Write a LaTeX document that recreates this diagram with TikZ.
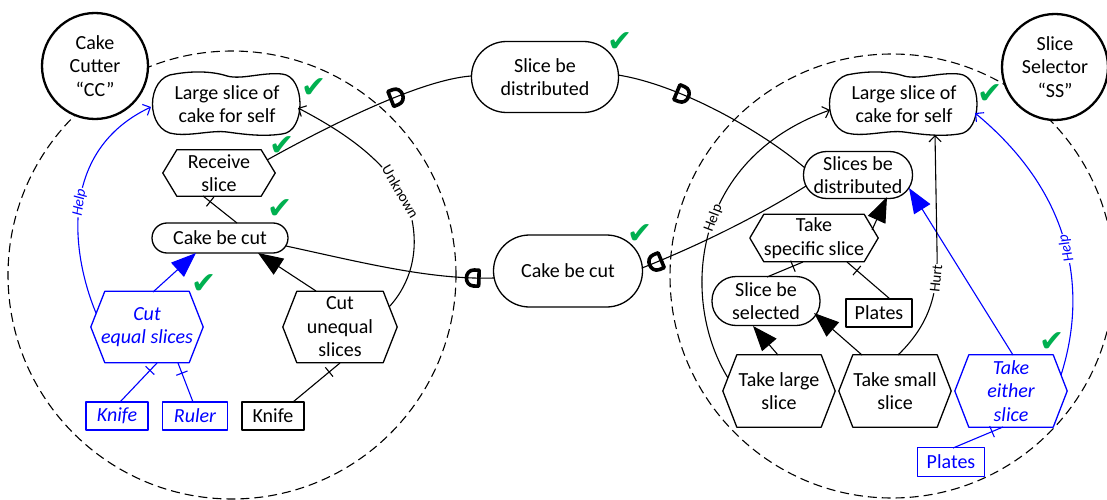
\documentclass[tikz,border=0pt]{standalone}
\usepackage{fontspec}
\setmainfont{Carlito}
\newfontfamily\symfont{DejaVu Sans}
\usetikzlibrary{arrows.meta,decorations.markings,calc}
\definecolor{ibblue}{RGB}{0,0,255}
\definecolor{okgreen}{RGB}{0,176,80}

% hexagonal task outline around a named node
\newcommand\hexoutline[2][]{%
  \draw[elem,#1] ([xshift=14pt]#2.north west) -- ([xshift=-14pt]#2.north east) -- (#2.east)
    -- ([xshift=-14pt]#2.south east) -- ([xshift=14pt]#2.south west) -- (#2.west) -- cycle;}

% wavy softgoal outline around a named node
\newcommand\softoutline[2][]{%
  \begin{scope}[shift={(#2.center)}]
    \draw[elem,#1] (-52,-30) .. controls (-35,-33) and (-15,-33) .. (0,-28)
      .. controls (15,-24) and (35,-32) .. (55,-30)
      .. controls (79,-28) and (79,28) .. (55,30)
      .. controls (35,33) and (15,30) .. (0,28)
      .. controls (-15,26) and (-35,32) .. (-52,30)
      .. controls (-82,28) and (-82,-28) .. (-52,-30) -- cycle;
  \end{scope}}

\tikzset{
  elem/.style={line width=1.3pt},
  lbl/.style={font=\fontsize{20}{23.5}\selectfont, align=center, inner sep=0pt},
  itlbl/.style={lbl, font=\fontsize{20}{23.5}\selectfont\itshape},
  goal/.style={lbl, draw, elem, rounded corners=#1},
  res/.style={lbl, draw, elem, rectangle},
  actor/.style={lbl, circle, draw, line width=2.3pt, fill=white, minimum size=106pt},
  bound/.style={line width=1.1pt, dash pattern=on 9pt off 5pt},
  conn/.style={line width=1.1pt},
  me/.style={conn, -{Triangle[length=25pt,width=19pt]}},
  contrib/.style={conn, -{Straight Barb[length=6pt,width=12pt]}},
  contribrev/.style={conn, {Straight Barb[length=6pt,width=12pt]}-},
  small/.style={font=\fontsize{15}{17}\selectfont, fill=white, inner sep=1pt, sloped},
  smallit/.style={small, font=\fontsize{15}{17}\selectfont\itshape},
  dectick/.style={conn, postaction={decorate, decoration={markings,
      mark=at position #1 with {\draw[line width=1.1pt] (0pt,-6pt) -- (0pt,6pt);}}}},
  dshape/.style={line width=3.6pt, line join=round},
  dmark/.style={postaction={decorate, decoration={markings,
      mark=at position #1 with {\draw[dshape]
        (-6pt,-8pt) -- (-6pt,8pt) -- (-1pt,8pt) .. controls (9pt,8pt) and (9pt,-8pt) .. (-1pt,-8pt) -- cycle;}}}},
  dmarkrev/.style={postaction={decorate, decoration={markings,
      mark=at position #1 with {\draw[dshape, xscale=-1]
        (-6pt,-8pt) -- (-6pt,8pt) -- (-1pt,8pt) .. controls (9pt,8pt) and (9pt,-8pt) .. (-1pt,-8pt) -- cycle;}}}},
  check/.style={text=okgreen, font=\symfont\fontsize{30}{30}\selectfont, inner sep=0pt}
}

\begin{document}
\begin{tikzpicture}[x=1pt, y=-1pt, line join=round]
\useasboundingbox (0,0) rectangle (1107,500);

% actor boundaries
\draw[bound] (232,275) circle[radius=224pt];
\draw[bound] (892,276) circle[radius=222pt];

% actors
\node[actor] (cc) at (95,66) {Cake\\Cutter\\“CC”};
\node[actor] (ss) at (1055,67) {Slice\\Selector\\“SS”};

% Cake Cutter elements
\node[lbl, minimum width=150pt, minimum height=64pt] (lsl) at (227,104) {Large slice of\\cake for self};
\softoutline{lsl}
\node[lbl, minimum width=112pt, minimum height=46pt] (rcv) at (219,173) {Receive\\slice};
\hexoutline{rcv}
\node[goal=15pt, minimum width=136pt, minimum height=30pt] (lcut) at (220,238) {Cake be cut};
\node[itlbl, text=ibblue, minimum width=112pt, minimum height=71pt] (ceq) at (147,327) {Cut\\equal slices};
\hexoutline[ibblue]{ceq}
\node[lbl, minimum width=114pt, minimum height=71pt] (cun) at (340,327) {Cut\\unequal\\slices};
\hexoutline{cun}
\node[res, itlbl, draw=ibblue, text=ibblue, minimum width=62pt, minimum height=28pt] (kn1) at (117,416) {Knife};
\node[res, itlbl, draw=ibblue, text=ibblue, minimum width=65pt, minimum height=28pt] (rul) at (195,416) {Ruler};
\node[res, minimum width=62pt, minimum height=28pt] (kn2) at (273,416) {Knife};

% dependums
\node[goal=35pt, minimum width=147pt, minimum height=71pt] (sbd) at (545,77) {Slice be\\distributed};
\node[goal=36pt, minimum width=149pt, minimum height=72pt] (mcut) at (568,271) {Cake be cut};

% Slice Selector elements
\node[lbl, minimum width=148pt, minimum height=64pt] (rsl) at (904,104) {Large slice of\\cake for self};
\softoutline{rsl}
\node[goal=23pt, minimum width=109pt, minimum height=47pt] (sbs) at (858,175) {Slices be\\distributed};
\node[lbl, minimum width=128pt, minimum height=47pt] (tsp) at (814,238) {Take\\specific slice};
\hexoutline{tsp}
\node[goal=24pt, minimum width=108pt, minimum height=49pt] (ssel) at (766,301) {Slice be\\selected};
\node[res, minimum width=66pt, minimum height=28pt] (pl1) at (879,313) {Plates};
\node[lbl, minimum width=112pt, minimum height=72pt] (tlg) at (779,391) {Take large\\slice};
\hexoutline{tlg}
\node[lbl, minimum width=112pt, minimum height=72pt] (tsm) at (895,391) {Take small\\slice};
\hexoutline{tsm}
\node[itlbl, text=ibblue, minimum width=112pt, minimum height=72pt] (tei) at (1011,391) {Take\\either\\slice};
\hexoutline[ibblue]{tei}
\node[res, draw=ibblue, text=ibblue, minimum width=67pt, minimum height=29pt] (pl2) at (951,462) {Plates};

% satisfaction marks
\node[check] (ck1) at (314,88) {✔};
\node[check] (ck2) at (282,146) {✔};
\node[check] (ck3) at (280,209) {✔};
\node[check] (ck4) at (204,284) {✔};
\node[check] (ck5) at (620,42) {✔};
\node[check] (ck6) at (640,234) {✔};
\node[check] (ck7) at (990,94) {✔};
\node[check] (ck8) at (1052,342) {✔};

% task decompositions
\draw[dectick=0.79] ($(lcut)+(17,-15)$) -- ($(rcv)+(-16,23)$);
\draw[ibblue, dectick=0.81] ($(kn1)+(3,-14)$) -- ($(ceq)+(10,36)$);
\draw[ibblue, dectick=0.74] ($(rul)+(-2,-14)$) -- ($(ceq)+(31,36)$);
\draw[dectick=0.77] ($(kn2)+(20,-14)$) -- ($(cun)+(0,36)$);
\draw[dectick=0.72] ($(ssel)+(1,-24)$) -- ($(tsp)+(-11,24)$);
\draw[dectick=0.77] ($(pl1)+(11,-14)$) -- ($(tsp)+(33,24)$);
\draw[ibblue, dectick=0.78] ($(pl2)+(2,-14)$) -- ($(tei)+(-8,36)$);

% means-end links
\draw[me, ibblue] ($(ceq)+(6,-35)$) -- ($(lcut)+(-24,15)$);
\draw[me] ($(cun)+(-24,-36)$) -- ($(lcut)+(38,15)$);
\draw[me] ($(tsp)+(58,-8)$) -- ($(sbs)+(29,22)$);
\draw[me, ibblue] ($(tei)+(2,-36)$) -- ($(sbs)+(51,13)$);
\draw[me] ($(tlg)+(-1,-36)$) -- ($(ssel)+(-13,25)$);
\draw[me] ($(tsm)+(-33,-36)$) -- ($(ssel)+(48,12)$);

% contributions
\draw[contrib, ibblue] ($(ceq)+(-51,-14)$) .. controls (70,250) and (60,150) .. ($(lsl)+(-76,3)$)
  node[smallit, text=ibblue, pos=0.5] {Help};
\draw[contribrev] ($(lsl)+(71,4)$) .. controls (350,135) and (400,170) .. (412,220)
  node[small, pos=0.8] {Unknown}
  .. controls (420,260) and (405,290) .. ($(cun)+(49,-20)$);
\draw[contrib] ($(tlg)+(-51,-13)$) .. controls (680,300) and (690,160) .. ($(rsl)+(-74,6)$)
  node[small, pos=0.55] {Help};
\draw[contrib] ($(tsm)+(3,-36)$) .. controls (932,322) and (938,290) .. (937,250)
  node[small, pos=0.75] {Hurt} -- ($(rsl)+(31,31)$);
\draw[contrib, ibblue] ($(tei)+(50,-16)$) .. controls (1085,300) and (1080,200) .. ($(rsl)+(71,9)$)
  node[smallit, text=ibblue, pos=0.5, allow upside down] {Help};

% dependencies
\draw[conn, dmark=0.65] ($(rcv)+(48,-13)$) .. controls (330,125) and (420,80) .. ($(sbd)+(-74,-1)$);
\draw[conn, dmark=0.32] ($(sbd)+(73,-2)$) .. controls (680,85) and (760,130) .. ($(sbs)+(-53,-7)$);
\draw[conn, dmarkrev=0.9] ($(lcut)+(66,8)$) .. controls (360,262) and (430,280) .. ($(mcut)+(-74,7)$);
\draw[conn, dmarkrev=0.08] ($(mcut)+(74,-3)$) .. controls (700,245) and (760,215) .. ($(sbs)+(-52,11)$);
\end{tikzpicture}
\end{document}
